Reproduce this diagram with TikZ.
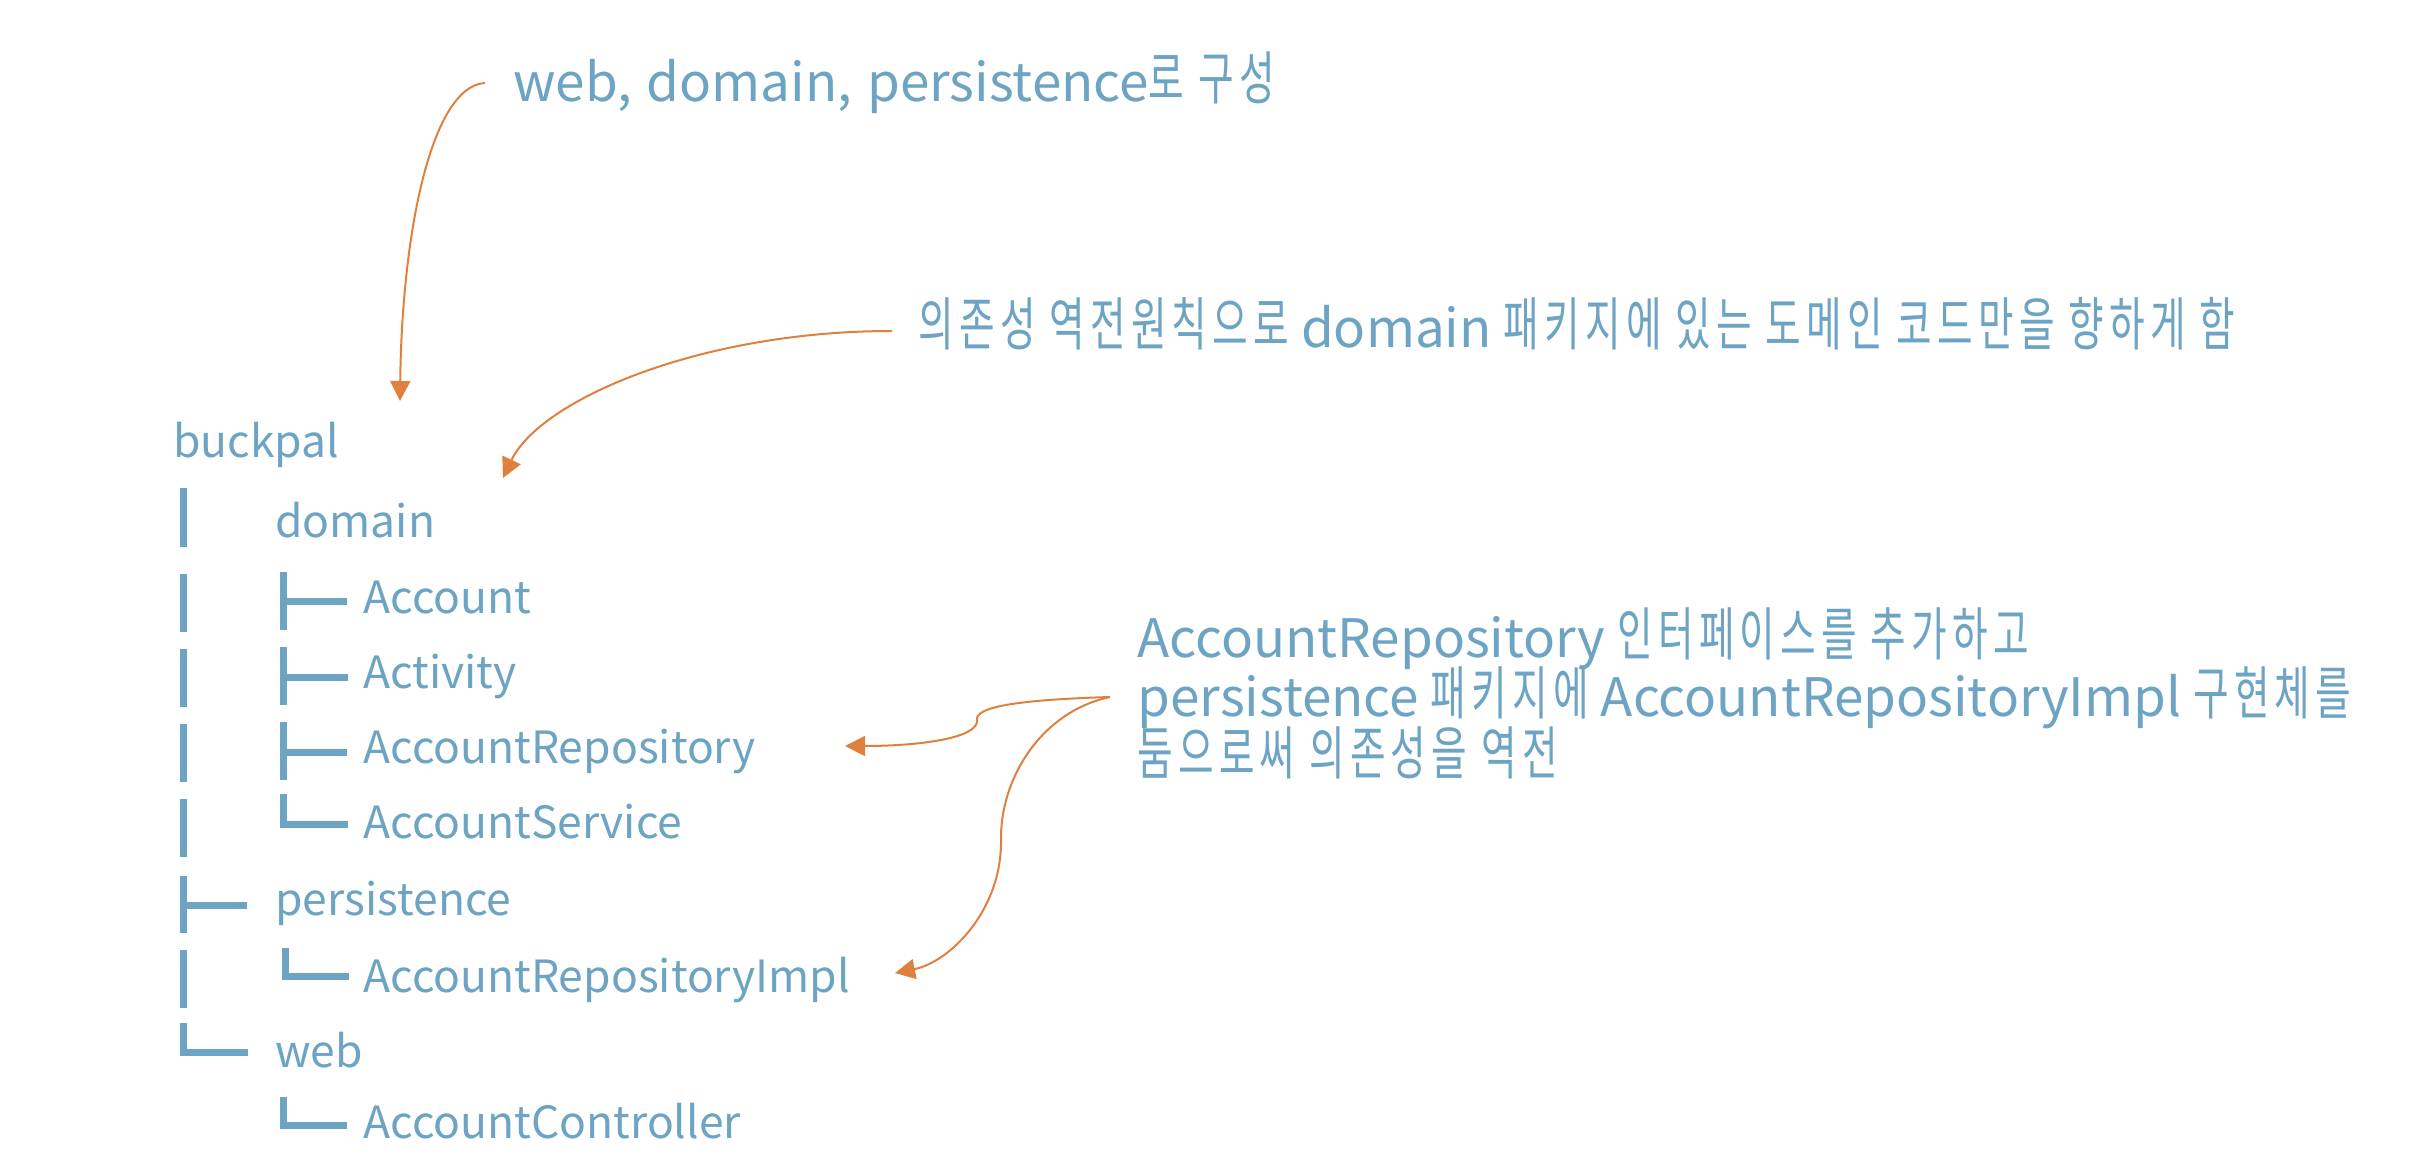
\documentclass[tikz,border=0pt]{standalone}
\usepackage{fontspec}
\setmainfont{Noto Sans CJK KR}
\newfontfamily\hgfont[Scale=1.09,FakeStretch=0.67,LetterSpace=9]{Noto Sans CJK KR}
\newcommand{\hg}[1]{\raisebox{1pt}{\hgfont #1}}
\usetikzlibrary{arrows.meta}
\definecolor{tblue}{HTML}{6DA4C3}
\definecolor{torange}{HTML}{E0803F}
\begin{document}
\begin{tikzpicture}[x=0.5pt,y=-0.5pt,
  treetxt/.style={anchor=base west,inner sep=0pt,text=tblue,font=\fontsize{22.2}{22.2}\selectfont},
  notetxt/.style={anchor=base west,inner sep=0pt,text=tblue,font=\fontsize{26.5}{26.5}\selectfont},
  treeline/.style={draw=tblue,line width=3.5pt,line cap=butt,line join=miter},
  callout/.style={draw=torange,line width=1pt,-{Triangle[length=10pt,width=10pt]}}]
\useasboundingbox[fill=white] (0,0) rectangle (2428,1170);

% tree texts
\node[treetxt] (buckpal) at (173,458) {buckpal};
\node[treetxt] (domain) at (275,537) {domain};
\node[treetxt] (account) at (363,613) {Account};
\node[treetxt] (activity) at (363,688) {Activity};
\node[treetxt] (accrepo) at (363,763) {AccountRepository};
\node[treetxt] (accsvc) at (363,838) {AccountService};
\node[treetxt] (persist) at (275,915) {persistence};
\node[treetxt] (accimpl) at (363,992) {AccountRepositoryImpl};
\node[treetxt] (web) at (275,1067) {web};
\node[treetxt] (accctrl) at (363,1138) {AccountController};

% left level bars
\draw[treeline] (183,488) -- (183,547);
\draw[treeline] (183,574) -- (183,632);
\draw[treeline] (183,649) -- (183,707);
\draw[treeline] (183,724) -- (183,782);
\draw[treeline] (183,799) -- (183,857);
\draw[treeline] (183,876) -- (183,933);
\draw[treeline] (183,905) -- (247,905);
\draw[treeline] (183,950) -- (183,1008);
\draw[treeline] (183,1023) -- (183,1052) -- (248,1052);

% inner bars
\draw[treeline] (283,572) -- (283,630);
\draw[treeline] (283,601) -- (347,601);
\draw[treeline] (283,647) -- (283,705);
\draw[treeline] (283,677) -- (348,677);
\draw[treeline] (283,722) -- (283,780);
\draw[treeline] (283,752) -- (347,752);
\draw[treeline] (283,794) -- (283,824) -- (348,824);
\draw[treeline] (285,948) -- (285,976) -- (349,976);
\draw[treeline] (283,1097) -- (283,1125) -- (347,1125);

% annotations
\node[notetxt] (note1) at (513,102) {web,\kern1.5pt\ domain,\kern1.5pt\ persistence\hg{로 구성}};
\node[notetxt] (note2) at (918,348) {\hg{의존성 역전원칙으로} domain \hg{패키지에 있는 도메인 코드만을 향하게 함}};
\node[notetxt] (note3a) at (1137,657) {AccountRepository \hg{인터페이스를 추가하고}};
\node[notetxt] (note3b) at (1137,716) {persistence \hg{패키지에} AccountRepositoryImpl \hg{구현체를}};
\node[notetxt] (note3c) at (1137,776) {\hg{둠으로써 의존성을 역전}};

% callout arrows
\coordinate (s1) at (485,83);
\coordinate (e1) at (400,401);
\coordinate (s2) at (892,331);
\coordinate (e2) at (503,478);
\coordinate (s3) at (1110,697);
\coordinate (k3) at (977,720);
\coordinate (e3) at (845,746);
\coordinate (k4) at (1001,840);
\coordinate (e4) at (895,973);

\draw[callout] (s1) .. controls (432,86) and (402,230) .. (e1);
\draw[callout] (s2) .. controls (700,331) and (540,400) .. (e2);
\draw[callout] (s3) .. controls (1010,700) and (975,708) .. (k3) .. controls (979,738) and (920,746) .. (e3);
\draw[callout] (s3) .. controls (1040,712) and (1000,780) .. (k4) .. controls (1002,910) and (950,962) .. (e4);
\end{tikzpicture}
\end{document}
